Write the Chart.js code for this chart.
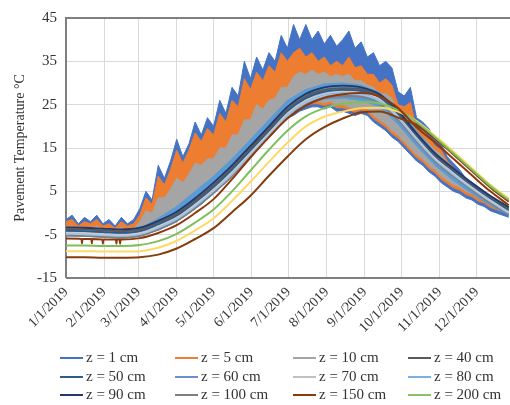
<!DOCTYPE html>
<html><head><meta charset="utf-8">
<script src="https://cdn.jsdelivr.net/npm/chart.js@4/dist/chart.umd.min.js"></script>
<style>
body{margin:0;background:#fff;}
#wrap{position:relative;width:510px;height:405px;overflow:hidden;}
#lg{position:absolute;left:0;top:0;width:510px;height:405px;pointer-events:none;font-family:"Liberation Serif","Times New Roman",serif;font-size:15px;color:#333;}
.it{position:absolute;white-space:nowrap;line-height:18px;height:18px;}
.ln{display:inline-block;width:23px;height:2px;vertical-align:middle;margin-right:3px;position:relative;top:-1px;}
</style></head><body>
<div id="wrap"><canvas id="c" width="510" height="405"></canvas><div id="lg"></div></div>
<script>
// ---- data ----
const monthDays = [0,31,59,90,120,151,181,212,243,273,304,334];
const monthLabels = ["1/1/2019","2/1/2019","3/1/2019","4/1/2019","5/1/2019","6/1/2019","7/1/2019","8/1/2019","9/1/2019","10/1/2019","11/1/2019","12/1/2019"];
const days5 = [0,5,10,15,20,25,30,35,40,45,50,55,60,65,70,75,80,85,90,95,100,105,110,115,120,125,130,135,140,145,150,155,160,165,170,175,180,185,190,195,200,205,210,215,220,225,230,235,240,245,250,255,260,265,270,275,280,285,290,295,300,305,310,315,320,325,330,335,340,345,350,355,360];
const days15 = [0,15,30,45,60,75,90,105,120,135,150,165,180,195,210,225,240,255,270,285,300,315,330,345,360];

const z1Hi = [-1.5,-0.5,-2.5,-1,-2,-0.5,-2.5,-1.5,-3,-1,-2.5,-1.5,1,5,3,11,8,12,17,13,16,21,18,22,20,26,23,29,27,35,31,36,33,37,35,41,38,43.5,40,43.5,40,42,39,41,38.5,40,42,38,39.5,36,37,34,35,33.5,28,27,29,22,21,19.5,17,16,13,11.5,10,8,7,5,4,2.5,2,1,0.5];
const z1Lo = [-4.8,-5,-5.2,-5,-5.3,-5.2,-5.5,-5.6,-5.5,-5.7,-5.6,-5.5,-5.2,-4.8,-4.3,-4,-3.3,-2.7,-2,-1,0,1,2,3.3,4.5,5.8,7,8.5,10,11.5,13,14.5,16,17.5,19,20.5,22,22.5,23.5,24,24.5,24.5,24,24.5,23.5,23.5,23,22.5,23,22.5,21,20,19,17.5,16.5,15,13.5,12,11,9.5,8.5,7,6,5,4.5,3.5,3,2,1.5,0.5,0,-0.5,-1];
const z5Hi = [-2,-1.5,-3,-2,-2.5,-1.5,-3,-2.5,-3.5,-2,-3,-2.5,-0.5,3.5,2,8.5,6.5,10,14.5,11.5,14.5,18.5,16.5,19.5,18,23,21,26,24.5,31,28.5,32.5,30.5,34,32.5,37,35,37,38,36,37,35,36,34,35,34,36,33.5,34,32,32,30,31,29.5,25,24.5,25.5,19.5,19,17.5,15.5,14.5,12,10.5,9,7.5,6.5,4.5,3.5,2,1.5,0.5,0];
const z5Lo = [-4.5,-4.7,-4.9,-4.8,-5,-5,-5.2,-5.3,-5.2,-5.4,-5.3,-5.2,-4.8,-4.3,-3.8,-3.4,-2.8,-2.1,-1.4,-0.4,0.6,1.6,2.6,3.9,5.1,6.4,7.6,9.1,10.6,12.1,13.6,15.1,16.6,18.1,19.6,21.1,22.6,23.2,24.2,24.7,25.2,25.2,24.8,25.2,24.3,24.3,23.8,23.3,23.8,23.3,21.8,20.8,19.8,18.3,17.3,15.8,14.3,12.8,11.8,10.3,9.3,7.8,6.8,5.8,5.3,4.3,3.8,2.8,2.3,1.3,0.8,0.3,-0.2];
const z10Hi = [-3.2,-3,-3.8,-3.2,-3.6,-3,-4,-3.6,-4.3,-3.3,-4,-3.6,-2,0.5,0,3.5,3.5,5.5,8,7,9,11.5,11,12.5,12.5,15,15,18,18,21.5,21.5,25,24,26,26.5,29,29,31.5,32.5,32,33,32,32.5,31.5,32,31.5,32,30.5,30.5,29.5,29,27.5,27.5,26.5,23,22.5,22.5,18,17.5,16,14.5,13.5,11.5,10,8.5,7,6,4.5,3.5,2,1.5,0.5,0];
const z10Lo = [-4.3,-4.5,-4.6,-4.5,-4.7,-4.7,-4.9,-5,-4.9,-5.1,-5,-4.9,-4.4,-3.9,-3.4,-3,-2.4,-1.7,-1,0,1,2,3,4.3,5.5,6.8,8,9.5,11,12.5,14,15.5,17,18.5,20,21.5,23,23.8,24.8,25.3,25.8,25.8,25.5,25.8,25,25,24.5,24,24.5,24,22.5,21.5,20.5,19,18,16.5,15,13.5,12.5,11,10,8.5,7.5,6.5,6,5,4.5,3.5,3,2,1.5,1,0.5];
const z60Hi = [-3.8,-3.9,-4.1,-4.3,-3.6,-1.2,1.5,5.0,8.5,12.5,17.0,21.5,26.0,28.5,29.8,30.0,29.5,27.8,23.8,19.0,14.0,10.3,6.8,3.8,1.0];
const z60Lo = [-5.3,-5.4,-5.6,-5.8,-5.4,-3.9,-2.0,1.0,4.5,8.5,13.0,17.5,22.0,25.0,26.3,26.5,26.0,24.5,20.5,15.5,11.0,7.5,4.5,1.8,-0.5];
const z40 = [-3.7,-3.8,-4.0,-4.2,-3.8,-2.2,-0.2,2.9,6.4,10.4,14.9,19.4,23.9,26.9,28.4,28.8,28.6,27.1,23.3,18.2,13.5,10.0,6.8,3.8,1.1];
const z50 = [-4.1,-4.2,-4.4,-4.6,-4.2,-2.6,-0.6,2.5,6.0,10.0,14.5,19.0,23.5,26.5,28.0,28.4,28.2,26.7,22.9,17.9,13.2,9.7,6.4,3.4,0.7];
const z70 = [-4.5,-4.6,-4.8,-5.0,-4.6,-3.0,-1.0,2.0,5.5,9.5,14.0,18.5,23.0,26.0,27.5,28.0,27.8,26.3,22.5,17.5,12.8,9.3,6.0,3.0,0.3];
const z80 = [-4.8,-4.9,-5.1,-5.3,-4.9,-3.4,-1.4,1.6,5.1,9.0,13.5,18.0,22.5,25.5,27.0,27.5,27.3,25.8,22.0,17.0,12.4,8.9,5.7,2.7,0.0];
const z90 = [-3.3,-3.4,-3.6,-3.8,-3.4,-1.8,0.3,3.4,7.0,11.0,15.5,20.0,24.5,27.5,29.0,29.4,29.0,27.4,23.6,18.4,13.8,10.3,7.0,4.0,1.4];
const z100 = [-5.2,-5.3,-5.5,-5.7,-5.3,-3.8,-1.8,1.1,4.6,8.5,13.0,17.5,22.0,25.0,26.5,27.0,26.8,25.3,21.5,16.6,12.0,8.5,5.3,2.3,-0.3];
const z150Days = [0,12.6,13,13.4,15,20.6,21,21.4,29.6,30,30.4,40.6,41,41.4,43.6,44,44.4,45,60,75,90,105,120,135,150,165,180,195,210,225,240,255,270,285,300,315,330,345,360];
const z150 = [-5.9,-6.0,-7.0,-6.0,-6.0,-6.0,-7.0,-6.0,-6.1,-7.1,-6.1,-6.1,-7.1,-6.1,-6.1,-7.1,-6.1,-6.1,-5.8,-4.6,-2.8,0.0,3.2,7.8,12.8,17.5,21.8,24.8,26.6,27.4,27.7,26.9,24.2,19.8,16.3,12.5,8.7,5.0,1.8];
const z200 = [-7.5,-7.5,-7.6,-7.6,-7.4,-6.5,-4.8,-2.2,0.8,5.0,9.8,14.6,19.0,22.3,24.2,25.2,25.6,25.3,23.8,21.0,17.5,13.8,10.0,6.2,3.0];
const zDeepA = [-8.8,-8.8,-8.9,-8.9,-8.8,-8.0,-6.4,-4.0,-1.2,2.8,7.2,11.8,16.2,20.0,22.2,23.4,24.2,24.3,23.4,21.2,17.8,14.2,10.3,6.5,3.3];
const zDeepB = [-10.2,-10.2,-10.3,-10.3,-10.2,-9.6,-8.2,-6.0,-3.5,0.2,4.0,8.6,13.0,17.0,19.8,21.8,23.2,23.4,22.0,20.3,17.2,13.5,9.7,5.9,2.6];

const legendItems = [
  ["z = 1 cm","#4472C4"],["z = 5 cm","#ED7D31"],["z = 10 cm","#A5A5A5"],["z = 40 cm","#595959"],
  ["z = 50 cm","#2F5A8C"],["z = 60 cm","#6A8FD6"],["z = 70 cm","#C0C0C0"],["z = 80 cm","#7DB0E0"],
  ["z = 90 cm","#22386B"],["z = 100 cm","#7F7F7F"],["z = 150 cm","#8B3A0E"],["z = 200 cm","#8CC168"]
];

// ---- build ----
const pts = (xs, ys) => xs.map((x, i) => ({x: x, y: ys[i]}));
const ds = [];
function band(label, xs, hi, lo, color, order) {
  ds.push({label: label, data: pts(xs, hi), borderColor: color, backgroundColor: color, borderWidth: 1, fill: false, tension: 0, order: order});
  ds.push({label: label + " lo", data: pts(xs, lo), borderColor: color, backgroundColor: color, borderWidth: 1, fill: '-1', tension: 0, order: order});
}
function line(label, xs, ys, color, order, w) {
  ds.push({label: label, data: pts(xs, ys), borderColor: color, backgroundColor: color, borderWidth: w || 1.8, fill: false, cubicInterpolationMode: 'monotone', order: order});
}
band("z = 1 cm", days5, z1Hi, z1Lo, "#4472C4", 20);
band("z = 5 cm", days5, z5Hi, z5Lo, "#ED7D31", 19);
band("z = 10 cm", days5, z10Hi, z10Lo, "#A5A5A5", 18);
band("z = 60 cm", days15, z60Hi, z60Lo, "#5B9BD5", 17);
line("z = 100 cm", days15, z100, "#7F7F7F", 16);
line("z = 80 cm", days15, z80, "#9DC3E6", 15);
line("z = 70 cm", days15, z70, "#C9C9C9", 14);
line("z = 50 cm", days15, z50, "#2F5A8C", 13);
line("z = 40 cm", days15, z40, "#595959", 12);
line("z = 90 cm", days15, z90, "#22386B", 11);
line("deep B", days15, zDeepB, "#843C0C", 5, 2);
line("deep A", days15, zDeepA, "#FFD966", 4, 2);
line("z = 200 cm", days15, z200, "#7FBF5A", 3, 2);
line("z = 150 cm", z150Days, z150, "#8B3A0E", 2, 2);

const FONT = "'Liberation Serif','Times New Roman',serif";
const frame = {
  id: 'frame',
  beforeDatasetsDraw(chart) {
    const a = chart.chartArea, c = chart.ctx;
    c.save(); c.strokeStyle = '#7f7f7f'; c.lineWidth = 2;
    c.beginPath(); c.moveTo(a.left, a.bottom); c.lineTo(a.left, a.top); c.lineTo(a.right, a.top); c.stroke();
    c.beginPath(); c.moveTo(a.left, a.bottom); c.lineTo(a.right, a.bottom); c.stroke();
    c.restore();
  }
};

new Chart(document.getElementById('c'), {
  type: 'line',
  data: {datasets: ds},
  options: {
    responsive: false, animation: false, devicePixelRatio: 1,
    layout: {padding: {top: 13, left: 0, right: 0, bottom: 0}},
    elements: {point: {radius: 0}},
    plugins: {legend: {display: false}, tooltip: {enabled: false}},
    scales: {
      x: {
        type: 'linear', min: 0, max: 361,
        afterBuildTicks: (s) => { s.ticks = monthDays.map(v => ({value: v})); },
        afterFit: (s) => { s.height = 127; },
        grid: {color: '#d9d9d9', drawTicks: false},
        border: {display: false},
        ticks: {autoSkip: false, minRotation: 45, maxRotation: 45, padding: 6, color: '#333',
          font: {family: FONT, size: 14},
          callback: (v) => { const i = monthDays.indexOf(v); return i >= 0 ? monthLabels[i] : ''; }}
      },
      y: {
        min: -15, max: 45,
        afterFit: (s) => { s.width = 66; },
        grid: {color: '#d9d9d9', drawTicks: false},
        border: {display: false},
        ticks: {stepSize: 10, padding: 9, color: '#333', font: {family: FONT, size: 15}},
        title: {display: true, text: 'Pavement Temperature °C', color: '#333', padding: {top: 12, bottom: 0}, font: {family: FONT, size: 14}}
      }
    }
  },
  plugins: [frame]
});

// ---- legend (HTML) ----
const lg = document.getElementById('lg');
const colX = [60, 175, 293, 408], rowY = [348, 367, 385];
legendItems.forEach((it, i) => {
  const d = document.createElement('div');
  d.className = 'it';
  d.style.left = colX[i % 4] + 'px';
  d.style.top = rowY[Math.floor(i / 4)] + 'px';
  const l = document.createElement('span'); l.className = 'ln'; l.style.background = it[1];
  d.appendChild(l); d.appendChild(document.createTextNode(it[0]));
  lg.appendChild(d);
});
</script>
</body></html>
